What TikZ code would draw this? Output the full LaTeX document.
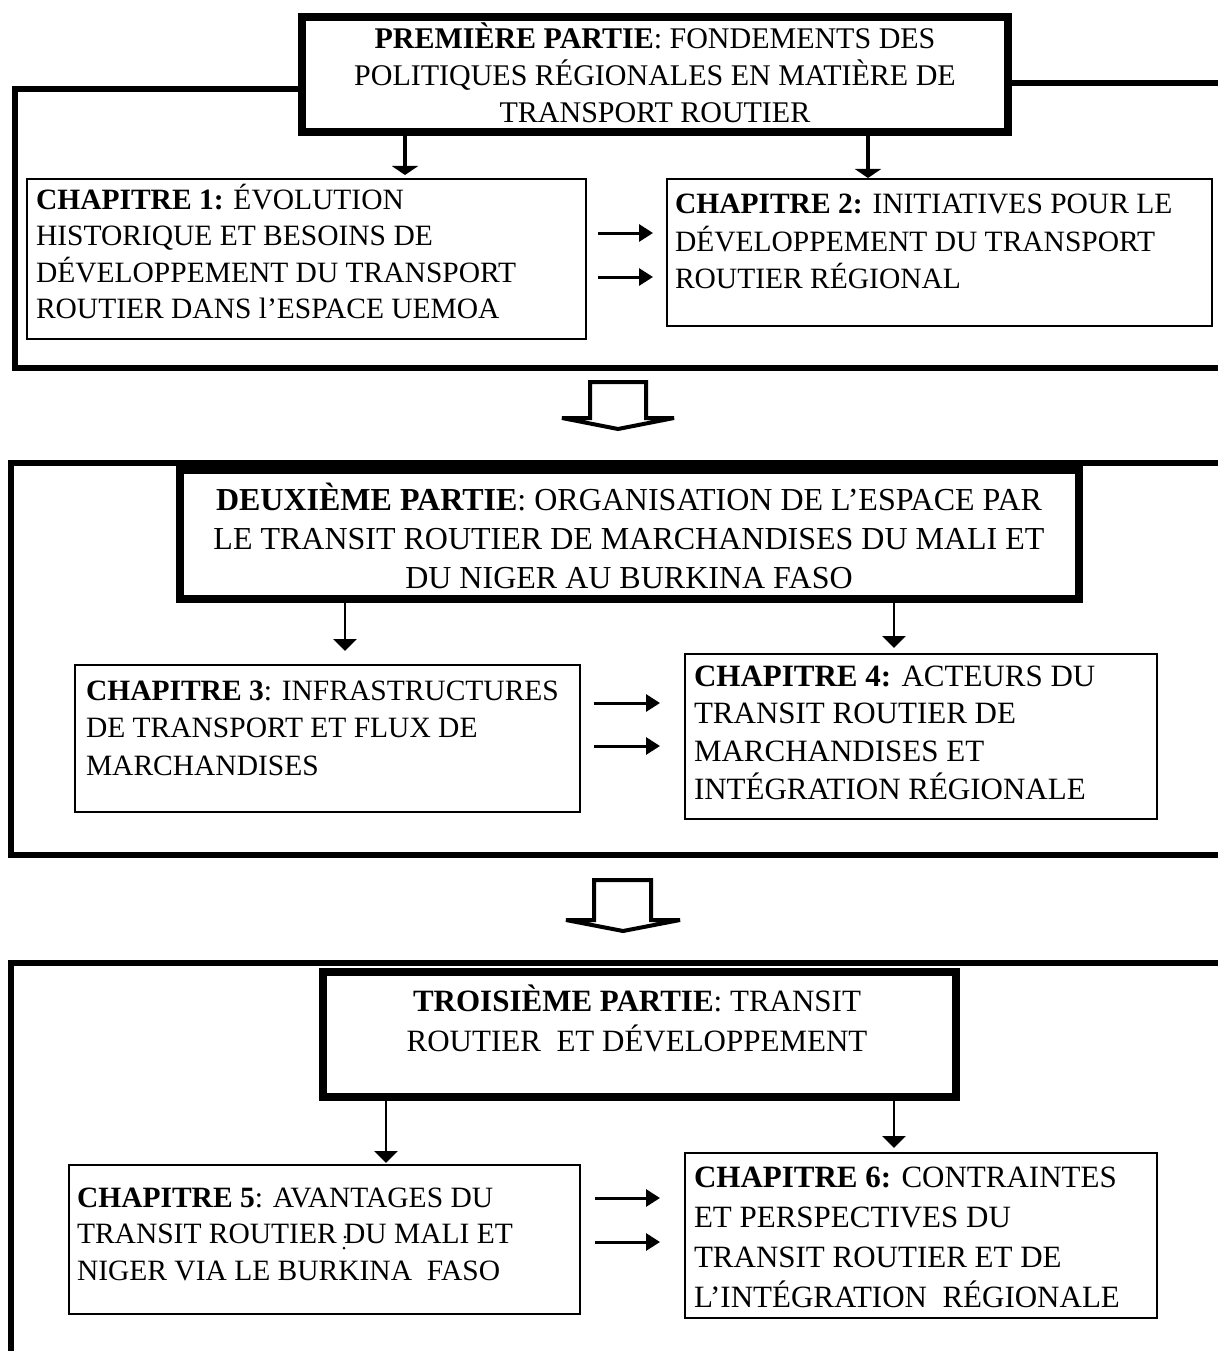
\documentclass[tikz,border=0pt]{standalone}
\usepackage{fontspec}
\setmainfont{Liberation Serif}
\usetikzlibrary{arrows.meta}
\tikzset{
  frameline/.style={line width=6pt, line cap=butt, line join=miter},
  titlebox/.style={draw, line width=8pt, inner sep=0pt, outer sep=0pt, fill=white},
  chapbox/.style={draw, line width=2pt, inner sep=0pt, outer sep=0pt, fill=white},
  thickarr/.style={line width=4.5pt, -{Triangle[width=26pt,length=9pt]}},
  thinarr/.style={line width=2.5pt, -{Triangle[width=23pt,length=12pt]}},
  harr/.style={line width=3pt, -{Triangle[width=17pt,length=14pt]}},
  hollow/.style={draw, line width=4pt, fill=white, line join=miter},
  chaptext/.style={anchor=base west, inner sep=0pt, outer sep=0pt},
  titletext/.style={anchor=base, inner sep=0pt, outer sep=0pt},
}
\begin{document}
\begin{tikzpicture}[x=1pt,y=-1pt]
\fill[white] (0,0) rectangle (1218,1351);
\useasboundingbox (0,0) rectangle (1218,1351);

% ---------- boxes ----------
\node[titlebox, minimum width=706pt, minimum height=115pt] (t1) at (655,74.5) {};
\node[chapbox, minimum width=559pt, minimum height=160pt] (c1) at (306.5,259) {};
\node[chapbox, minimum width=545pt, minimum height=147pt] (c2) at (939.5,252.5) {};

\node[titlebox, minimum width=899pt, minimum height=129pt] (t2) at (629.5,534.5) {};
\node[chapbox, minimum width=505pt, minimum height=147pt] (c3) at (327.5,738.5) {};
\node[chapbox, minimum width=472pt, minimum height=165pt] (c4) at (921,736.5) {};

\node[titlebox, minimum width=633pt, minimum height=125pt] (t3) at (639.5,1034.5) {};
\node[chapbox, minimum width=511pt, minimum height=149pt] (c5) at (324.5,1239.5) {};
\node[chapbox, minimum width=472pt, minimum height=165pt] (c6) at (921,1235.5) {};

% ---------- frames ----------
\coordinate (f1) at (14.5,89.5);
\coordinate (f1r) at (1218,83);
\draw[frameline] (t1.west |- f1) -- (f1) -- (14.5,368) -- (1218,368);
\draw[frameline] (t1.east |- f1r) -- (f1r);
\draw[frameline] (1218,463) -- (11,463) -- (11,855) -- (1218,855);
\draw[frameline] (1218,963) -- (10.5,963) -- (10.5,1351);

% ---------- hollow block arrows ----------
\draw[hollow] (590,382) -- (646,382) -- (646,418) -- (674,418) -- (618,429)
  -- (562,418) -- (590,418) -- cycle;
\draw[hollow] (594,880) -- (651,880) -- (651,920) -- (680,920) -- (623,931)
  -- (566,920) -- (594,920) -- cycle;

% ---------- vertical arrows ----------
\coordinate (v1a) at (405,0); \coordinate (v1b) at (868,0);
\coordinate (v2a) at (345,0); \coordinate (v2b) at (894,0);
\coordinate (v3a) at (386,0); \coordinate (v3b) at (894,0);
\draw[thickarr, shorten >=4pt] (t1.south -| v1a) -- (c1.north -| v1a);
\draw[thickarr, shorten >=1pt] (t1.south -| v1b) -- (c2.north -| v1b);
\draw[thinarr, shorten >=14pt] (t2.south -| v2a) -- (c3.north -| v2a);
\draw[thinarr, shorten >=6pt] (t2.south -| v2b) -- (c4.north -| v2b);
\draw[thinarr, shorten >=2pt] (t3.south -| v3a) -- (c5.north -| v3a);
\draw[thinarr, shorten >=5pt] (t3.south -| v3b) -- (c6.north -| v3b);

% ---------- horizontal arrows ----------
\coordinate (h1a) at (0,233); \coordinate (h1b) at (0,277);
\coordinate (h2a) at (0,703); \coordinate (h2b) at (0,746);
\coordinate (h3a) at (0,1198); \coordinate (h3b) at (0,1242);
\draw[harr, shorten <=12pt, shorten >=14pt] (c1.east |- h1a) -- (c2.west |- h1a);
\draw[harr, shorten <=12pt, shorten >=14pt] (c1.east |- h1b) -- (c2.west |- h1b);
\draw[harr, shorten <=14pt, shorten >=25pt] (c3.east |- h2a) -- (c4.west |- h2a);
\draw[harr, shorten <=14pt, shorten >=25pt] (c3.east |- h2b) -- (c4.west |- h2b);
\draw[harr, shorten <=15pt, shorten >=25pt] (c5.east |- h3a) -- (c6.west |- h3a);
\draw[harr, shorten <=15pt, shorten >=25pt] (c5.east |- h3b) -- (c6.west |- h3b);

% ---------- texts ----------
\node[titletext, font=\fontsize{30}{37}\selectfont] (t1t) at (655,49)
  {\parbox[t]{700pt}{\centering \textbf{PREMIÈRE PARTIE}: FONDEMENTS DES\\
   POLITIQUES RÉGIONALES EN MATIÈRE DE\\ TRANSPORT ROUTIER}};
\node[chaptext, font=\fontsize{29.5}{36.5}\selectfont] (c1t) at (36,209)
  {\parbox[t]{545pt}{\raggedright \textbf{CHAPITRE 1:} ÉVOLUTION\\
   HISTORIQUE ET BESOINS DE\\ DÉVELOPPEMENT DU TRANSPORT\\
   ROUTIER DANS l’ESPACE UEMOA}};
\node[chaptext, font=\fontsize{29.5}{37}\selectfont] (c2t) at (675,214)
  {\parbox[t]{535pt}{\raggedright \textbf{CHAPITRE 2:} INITIATIVES POUR LE\\
   DÉVELOPPEMENT DU TRANSPORT\\ ROUTIER RÉGIONAL}};

\node[titletext, font=\fontsize{32}{39}\selectfont] (t2t) at (629,510)
  {\parbox[t]{890pt}{\centering \textbf{DEUXIÈME PARTIE}: ORGANISATION DE L’ESPACE PAR\\
   LE TRANSIT ROUTIER DE MARCHANDISES DU MALI ET\\ DU NIGER AU BURKINA FASO}};
\node[chaptext, font=\fontsize{29.5}{37.5}\selectfont] (c3t) at (86,700)
  {\parbox[t]{490pt}{\raggedright \textbf{CHAPITRE 3}: INFRASTRUCTURES\\
   DE TRANSPORT ET FLUX DE\\ MARCHANDISES}};
\node[chaptext, font=\fontsize{31}{37.7}\selectfont] (c4t) at (694,686)
  {\parbox[t]{460pt}{\raggedright \textbf{CHAPITRE 4:} ACTEURS DU\\
   TRANSIT ROUTIER DE\\ MARCHANDISES ET\\ INTÉGRATION RÉGIONALE}};

\node[titletext, font=\fontsize{31}{40}\selectfont] (t3t) at (637,1011)
  {\parbox[t]{620pt}{\centering \textbf{TROISIÈME PARTIE}: TRANSIT\\
   ROUTIER\ \ ET DÉVELOPPEMENT}};
\node[chaptext, font=\fontsize{29.5}{36.5}\selectfont] (c5t) at (77,1207)
  {\parbox[t]{500pt}{\raggedright \textbf{CHAPITRE 5}: AVANTAGES DU\\
   TRANSIT ROUTIER DU MALI ET\\ NIGER VIA LE BURKINA\ \ FASO}};
\node[chaptext, font=\fontsize{31}{40}\selectfont] (c6t) at (694,1187)
  {\parbox[t]{460pt}{\raggedright \textbf{CHAPITRE 6:} CONTRAINTES\\
   ET PERSPECTIVES DU\\ TRANSIT ROUTIER ET DE\\ L’INTÉGRATION\ \ RÉGIONALE}};

% stray dots in chapter 5
\fill (345,1237) circle (1.5pt);
\fill (344,1248) circle (1.5pt);
\end{tikzpicture}
\end{document}
